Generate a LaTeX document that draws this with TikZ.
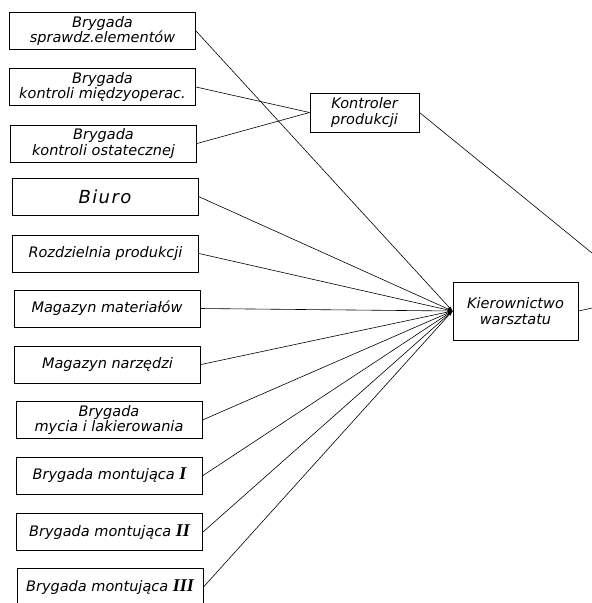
\documentclass[tikz,border=0pt]{standalone}
\usepackage{fontspec}
\setmainfont{DejaVu Sans}
\newfontfamily\numfont{Liberation Serif}
\usetikzlibrary{arrows,positioning}
\newcommand{\rzym}[1]{{\numfont\bfseries\itshape\fontsize{18}{18}\selectfont #1}}

\begin{document}
\begin{tikzpicture}[x=1pt,y=1pt]
    \tikzstyle{every node}+=[font=\fontsize{14.5}{15.5}\selectfont\itshape]
    \tikzstyle{unit}=[draw=black, line width=1pt, minimum width=186pt, minimum height=37pt, inner sep=0pt, align=center]
    \tikzstyle{link}=[black, line width=0.6pt]
    \useasboundingbox (0,0) rectangle (592,-603);
    \node [unit] (spraw) at (102.5,-31) {Brygada\\sprawdz.elementów};
    \node [unit] (miedzy) at (102.5,-87) {Brygada\\kontroli międzyoperac.};
    \node [unit] (ostat) at (103.5,-143.5) {Brygada\\kontroli ostatecznej};
    \node [unit, font=\fontsize{18}{20}\selectfont\itshape\addfontfeature{LetterSpace=8}] (biuro) at (105,-196.5) {Biuro};
    \node [unit] (rozdz) at (105.5,-253.5) {Rozdzielnia produkcji};
    \node [unit] (magmat) at (107,-308.5) {Magazyn materiałów};
    \node [unit] (magnarz) at (107.5,-364.5) {Magazyn narzędzi};
    \node [unit] (mycie) at (109,-420) {Brygada\\mycia i lakierowania};
    \node [unit] (mont1) at (109.5,-475.5) {Brygada montująca \rzym{I}};
    \node [unit] (mont2) at (109.5,-532) {Brygada montująca \rzym{II}};
    \node [unit] (mont3) at (110,-587) {Brygada montująca \rzym{III}};
    \node [unit, minimum width=109pt, minimum height=39pt] (kontr) at (364.5,-112.5) {Kontroler\\produkcji};
    \node [unit, minimum width=125pt, minimum height=58pt] (kier) at (515.5,-311) {Kierownictwo\\warsztatu};
    \coordinate (wyj1) at (592,-253);
    \coordinate (wyj2) at (592,-308);
    \draw [link] (miedzy.east) -- (kontr.west);
    \draw [link] (ostat.east) -- (kontr.west);
    \draw [link] (kontr.east) -- (wyj1);
    \draw [link] (kier.east) -- (wyj2);
    \foreach \src in {spraw,biuro,rozdz,magmat,magnarz,mycie,mont1,mont2,mont3}
        \draw [link, -latex] (\src.east) -- (kier.west);
\end{tikzpicture}
\end{document}
